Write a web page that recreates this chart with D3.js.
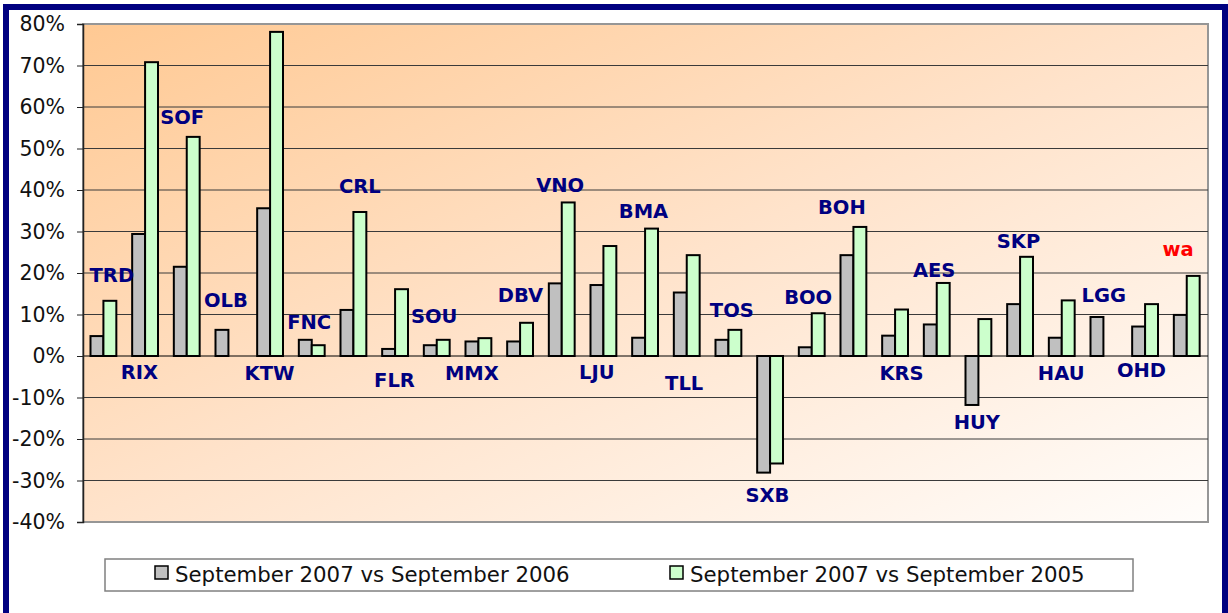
<!DOCTYPE html>
<html>
<head>
<meta charset="utf-8">
<script src="https://cdn.jsdelivr.net/npm/d3@7"></script>
<style>
  html, body { margin: 0; padding: 0; background: #fff; }
  svg { display: block; font-family: Verdana, "DejaVu Sans", sans-serif; }
</style>
</head>
<body>
<svg id="chart" width="1228" height="613"></svg>
<script>
// airports, left to right
const categories = ["TRD", "RIX", "SOF", "OLB", "KTW", "FNC", "CRL", "FLR", "SOU", "MMX",
  "DBV", "VNO", "LJU", "BMA", "TLL", "TOS", "SXB", "BOO", "BOH", "KRS",
  "AES", "HUY", "SKP", "HAU", "LGG", "OHD", "wa"];

// growth in %, null where there is no bar
const vs2006 = [4.8, 29.4, 21.5, 6.3, 35.6, 3.9, 11.1, 1.7, 2.6, 3.5,
  3.5, 17.5, 17.1, 4.4, 15.3, 3.9, -28.1, 2.1, 24.3, 4.9,
  7.6, -11.8, 12.5, 4.4, 9.4, 7.1, 9.9];
const vs2005 = [13.3, 70.8, 52.8, null, 78.1, 2.6, 34.7, 16.1, 3.9, 4.3,
  8.0, 37.0, 26.5, 30.7, 24.3, 6.3, -25.9, 10.3, 31.1, 11.2,
  17.6, 8.9, 23.9, 13.4, null, 12.5, 19.3];

const seriesNames = ["September 2007 vs September 2006", "September 2007 vs September 2005"];
const yTicks = [-40, -30, -20, -10, 0, 10, 20, 30, 40, 50, 60, 70, 80];

// where each airport code sits, in % on the value axis
const labelAt = [19.5, -3.9, 57.5, 13.4, -4.2, 8.1, 41.0, -5.8, 9.6, -4.2,
  14.7, 41.2, -3.9, 34.9, -6.4, 11.2, -33.6, 14.3, 35.8, -4.2,
  20.8, -16.0, 27.8, -4.2, 14.7, -3.4, 25.8];

// small horizontal nudges of the codes (px)
const labelDx = [8, -6, -5, -3, -1, -3, 6, -1, -3, -7, 0, -2, -7, -2, -3, 3, -3, -4, -12, 6,
  -3, -2, -2, -1, 0, -4, -9];

const svg = d3.select("#chart");
const margin = { left: 83, right: 1208, top: 24, bottom: 522 };
const fills = ["#c0c0c0", "#ccffcc"];

// outer frame
svg.append("rect")
    .attr("x", 6).attr("y", 7)
    .attr("width", 1219).attr("height", 612)
    .attr("fill", "#fff")
    .attr("stroke", "#000080")
    .attr("stroke-width", 6);

// plot background gradient
let grad = svg.append("defs").append("linearGradient")
    .attr("id", "bg")
    .attr("x1", 0).attr("y1", 0).attr("x2", 1).attr("y2", 1);
grad.append("stop").attr("offset", "0%").attr("stop-color", "#ffc993");
grad.append("stop").attr("offset", "50%").attr("stop-color", "#ffe3cb");
grad.append("stop").attr("offset", "100%").attr("stop-color", "#fffdfb");

let x = d3.scaleBand()
    .domain(categories)
    .range([margin.left, margin.right]);

let x1 = d3.scaleBand()
    .domain([0, 1])
    .range([x.bandwidth() * 0.18, x.bandwidth() * 0.8]);

let y = d3.scaleLinear()
    .domain([-40, 80])
    .range([margin.bottom, margin.top]);

svg.append("rect")
    .attr("x", margin.left).attr("y", margin.top)
    .attr("width", margin.right - margin.left)
    .attr("height", margin.bottom - margin.top)
    .attr("fill", "url(#bg)")
    .attr("stroke", "#969696")
    .attr("stroke-width", 2);

// gridlines
svg.append("g")
    .selectAll("line")
    .data(yTicks.filter(d => d !== 80 && d !== -40))
    .join("line")
    .attr("x1", margin.left).attr("x2", margin.right)
    .attr("y1", d => y(d)).attr("y2", d => y(d))
    .attr("stroke", d => d === 0 ? "#000" : "#3a3a3a")
    .attr("stroke-width", 1);

// value axis
let yAxis = svg.append("g")
    .attr("transform", `translate(${margin.left},0)`)
    .call(d3.axisLeft(y).tickValues(yTicks).tickFormat(d => d + "%").tickSize(6).tickPadding(12));
yAxis.select(".domain").attr("stroke", "#222").attr("stroke-width", 1.5);
yAxis.selectAll(".tick line").attr("stroke", "#222");
yAxis.selectAll("text")
    .attr("font-size", 20.5)
    .attr("fill", "#111")
    .style("font-family", 'Verdana, "DejaVu Sans", sans-serif');

// bars
let rows = categories.map((c, i) => ({ c, v: [vs2006[i], vs2005[i]] }));
let groups = svg.append("g")
    .selectAll("g")
    .data(rows)
    .join("g")
    .attr("transform", d => `translate(${x(d.c)},0)`);

groups.selectAll("rect")
    .data(d => d.v.map((v, s) => ({ v, s })).filter(e => e.v !== null))
    .join("rect")
    .attr("x", e => x1(e.s))
    .attr("width", x1.bandwidth())
    .attr("y", e => y(Math.max(0, e.v)))
    .attr("height", e => Math.abs(y(e.v) - y(0)))
    .attr("fill", e => fills[e.s])
    .attr("stroke", "#000")
    .attr("stroke-width", 2);

// airport codes
svg.append("g")
    .selectAll("text")
    .data(categories)
    .join("text")
    .attr("x", (d, i) => x(d) + x.bandwidth() / 2 + labelDx[i])
    .attr("y", (d, i) => y(labelAt[i]))
    .attr("dy", "0.36em")
    .attr("text-anchor", "middle")
    .attr("font-size", 19.5)
    .attr("font-weight", "bold")
    .attr("fill", d => d === "wa" ? "#ff0000" : "#000080")
    .text(d => d);

// legend
let legend = svg.append("g");
legend.append("rect")
    .attr("x", 105).attr("y", 559)
    .attr("width", 1028).attr("height", 32)
    .attr("fill", "#fff")
    .attr("stroke", "#808080")
    .attr("stroke-width", 1.5);

let legendX = [155, 670];
seriesNames.forEach((name, s) => {
  legend.append("rect")
      .attr("x", legendX[s]).attr("y", 566)
      .attr("width", 13).attr("height", 13)
      .attr("fill", fills[s])
      .attr("stroke", "#000")
      .attr("stroke-width", 1.5);
  legend.append("text")
      .attr("x", legendX[s] + 20)
      .attr("y", 582)
      .attr("font-size", 21.3)
      .attr("fill", "#111")
      .text(name);
});
</script>
</body>
</html>
